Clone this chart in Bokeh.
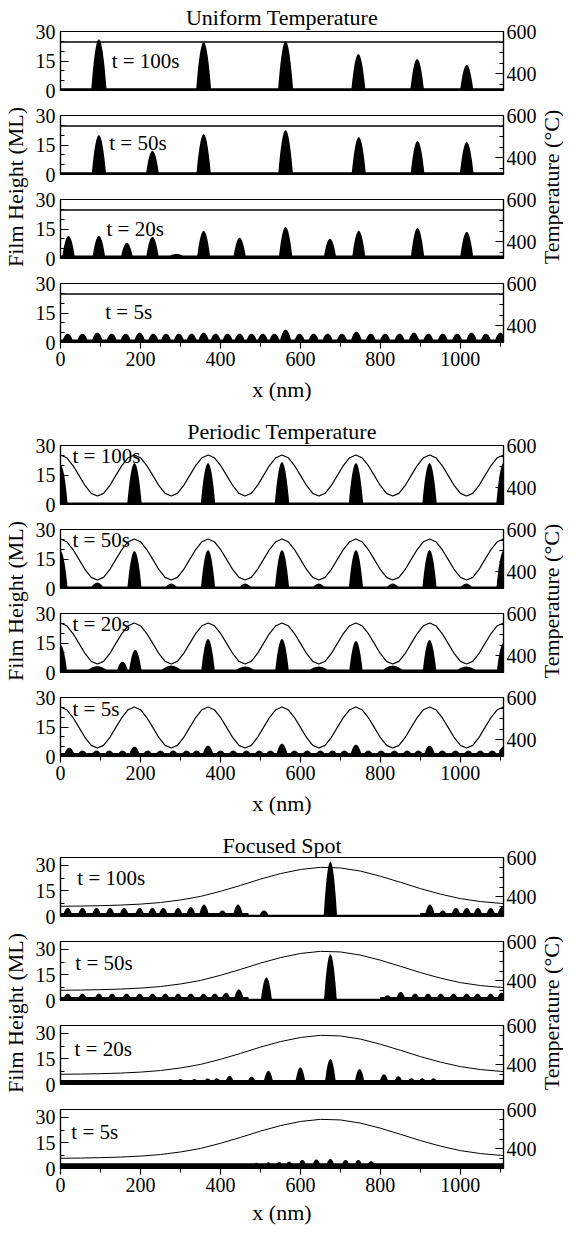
import numpy as np
from bokeh.plotting import figure
from bokeh.models import Range1d, LinearAxis, FixedTicker, Span
from bokeh.layouts import column, row
from bokeh.embed import file_html
from bokeh.resources import INLINE
from bokeh.core.properties import value

FONT = "Liberation Serif"

# ---------------- axes ----------------
X_MAX = 1108
X_TICKS = [0, 200, 400, 600, 800, 1000]
X_MINOR = [100, 300, 500, 700, 900, 1100]
H_TICKS = [0, 15, 30]
H_MINOR = [5, 10, 20, 25]
H_MINOR_FOC = [7.5, 22.5]
T_TICKS = [400, 600]
T_MINOR = [350, 450, 500, 550]
TIME_LABELS = ["t = 100s", "t = 50s", "t = 20s", "t = 5s"]

# ---------------- Uniform temperature ----------------
UNI_T = 550
uni100_x = [96, 358, 563, 745, 892, 1016]
uni100_h = [26, 24.5, 25, 18.5, 16, 13]
uni50_x = [96, 230, 358, 563, 746, 893, 1016]
uni50_h = [20, 12, 20.5, 22.5, 19, 17, 16.5]
uni20_x = [20, 96, 166, 230, 358, 448, 563, 674, 746, 893, 1016]
uni20_h = [11.5, 11.5, 8, 11, 14, 10.5, 16, 10, 14, 15.5, 13.5]
uni20_hump_x = [290]
uni20_hump_h = [2.3]
uni5_x = [18, 55, 92, 128, 163, 198, 232, 264, 296, 328, 358, 388, 418, 448, 478, 506, 535,
          563, 598, 633, 668, 704, 740, 776, 812, 848, 884, 920, 956, 992, 1028, 1064, 1100]
uni5_h = [4.5, 4.5, 5, 4.5, 4.5, 5, 4.5, 4.5, 4.5, 4.5, 5, 4.5, 4.5, 4.5, 4.5, 4.5, 4.5,
          6.5, 4.5, 4.5, 4.5, 4.5, 5.5, 4.5, 4.5, 4.5, 5, 4.5, 4.5, 4.5, 5, 4.5, 5]
uni_base = [1.2, 1.2, 1.5, 1.5]

# ---------------- Periodic temperature ----------------
PER_T_X = [0, 15.4, 30.8, 46.2, 61.6, 76.9, 92.3, 107.7, 123.1, 138.5, 153.9, 169.3,
           184.7, 200.1, 215.4, 230.8, 246.2, 261.6, 277.0, 292.4, 307.8, 323.2, 338.6, 353.9,
           369.3, 384.7, 400.1, 415.5, 430.9, 446.3, 461.7, 477.1, 492.4, 507.8, 523.2, 538.6,
           554.0, 569.4, 584.8, 600.2, 615.6, 630.9, 646.3, 661.7, 677.1, 692.5, 707.9, 723.3,
           738.7, 754.1, 769.4, 784.8, 800.2, 815.6, 831.0, 846.4, 861.8, 877.2, 892.6, 907.9,
           923.3, 938.7, 954.1, 969.5, 984.9, 1000.3, 1015.7, 1031.1, 1046.4, 1061.8, 1077.2, 1092.6,
           1108.0]
PER_T = [555, 542, 506, 458, 409, 373, 360, 373, 409, 458, 506, 542,
         555, 542, 506, 458, 409, 373, 360, 373, 409, 458, 506, 542,
         555, 542, 506, 458, 409, 373, 360, 373, 409, 458, 506, 542,
         555, 542, 506, 458, 409, 373, 360, 373, 409, 458, 506, 542,
         555, 542, 506, 458, 409, 373, 360, 373, 409, 458, 506, 542,
         555, 542, 506, 458, 409, 373, 360, 373, 409, 458, 506, 542,
         555]
per100_x = [0, 185, 369, 554, 739, 923, 1108]
per100_h = [20, 21, 21, 21.5, 21, 21, 21]
per50_x = [0, 185, 369, 554, 739, 923, 1108]
per50_h = [19, 19, 19.5, 19.5, 19.5, 19.5, 19]
per50_hump_x = [92, 277, 462, 646, 831, 1015]
per50_hump_h = [3, 2.5, 2.5, 2.5, 2.5, 2.5]
per20_x = [0, 155, 187, 369, 554, 739, 923, 1108]
per20_h = [14, 5.5, 11.5, 17, 17, 16, 16.5, 15]
per20_hump_x = [92, 277, 462, 646, 831, 1015]
per20_hump_h = [3.2, 3.5, 3, 3, 3.5, 3]
per5_x = [22, 55, 90, 122, 155, 185, 218, 250, 282, 315, 340, 369, 400, 432, 465, 497, 525, 554,
          585, 617, 650, 680, 710, 739, 770, 802, 835, 867, 895, 923, 955, 988, 1020, 1050, 1080, 1108]
per5_h = [4.5, 3, 3, 3, 3, 5, 3, 3, 3, 3, 3, 5.5, 3, 3, 3, 3, 3, 6.5,
          3, 3, 3, 3, 3, 6, 3, 3, 3, 3, 3, 5.5, 3, 3, 3, 3, 3, 5]
per_base = [1.0, 1.0, 1.5, 1.8]

# ---------------- Focused spot ----------------
FOC_T_X = [0, 50, 100, 150, 200, 250, 300, 350, 400, 450, 500, 550, 600, 650, 700, 750,
           800, 850, 900, 950, 1000, 1050, 1100, 1108]
FOC_T = [352, 353, 355, 358, 363, 371, 384, 402, 428, 458, 490, 518, 539, 550, 547, 531,
         505, 474, 442, 414, 391, 376, 367, 366]
foc100_x = [18, 55, 90, 124, 159, 198, 230, 257, 294, 326, 359, 405, 444, 509, 675,
            924, 956, 989, 1016, 1044, 1076, 1104]
foc100_h = [5, 5, 5, 5, 5, 5, 5, 5, 5, 5.5, 7, 3.5, 7, 3.5, 32,
            7, 3.5, 5, 5, 5, 5, 5.5]
foc100_band = [(0, 470, 2.0), (900, 1108, 2.0)]
foc50_x = [18, 55, 96, 129, 165, 198, 230, 262, 294, 326, 358, 386, 414, 446, 515, 675,
           818, 851, 887, 919, 951, 983, 1016, 1043, 1076, 1103]
foc50_h = [4, 4, 4, 4, 4, 4, 4, 4, 4, 4, 4, 4, 4.5, 6.5, 13.5, 27,
           3, 5, 4, 4, 4, 4, 4, 4, 4, 4.5]
foc50_band = [(0, 470, 2.0), (800, 1108, 2.0)]
foc20_x = [300, 335, 368, 391, 423, 478, 520, 600, 675, 748, 809, 845, 878, 905, 933]
foc20_h = [3.2, 3.2, 3.5, 3.6, 5, 4.5, 8, 10, 15, 9, 6, 4.8, 3.6, 3.6, 3.6]
foc5_x = [490, 520, 547, 572, 605, 640, 675, 713, 745, 777]
foc5_h = [3.3, 3.6, 3.8, 4, 5, 5.3, 5.6, 5, 5, 4.3]
foc_base = [1.0, 1.0, 2.6, 3.0]

# ---------------- drawing helpers ----------------
XS = np.arange(0, X_MAX + 0.5, 0.5)


def film_profile(base, centers, heights, hump_x=(), hump_h=(), hump_w=40, bands=(), narrow=False):
    y = np.full(XS.shape, float(base))
    for a, b, lv in bands:
        m = (XS >= a) & (XS <= b)
        y[m] = np.maximum(y[m], lv)
    for c, h in zip(hump_x, hump_h):
        d = np.clip(np.abs(XS - c) / hump_w, 0, 1)
        y = np.maximum(y, h * np.cos(np.pi * d / 2) ** 2)
    for c, h in zip(centers, heights):
        w = (12 + 0.15 * h) if narrow else (14 + 0.2 * h)
        d = (XS - c) / w
        y = np.maximum(y, h * (1 - d * d))
    return y


def style_axis(ax, major_in, major_out, minor_in, minor_out, standoff):
    ax.axis_line_color = "black"
    ax.axis_line_width = 1.2
    ax.major_tick_line_color = "black"
    ax.major_tick_line_width = 1.2
    ax.minor_tick_line_color = "black"
    ax.minor_tick_line_width = 1
    ax.major_tick_in = major_in
    ax.major_tick_out = major_out
    ax.minor_tick_in = minor_in
    ax.minor_tick_out = minor_out
    ax.major_label_text_font = FONT
    ax.major_label_text_font_size = "20px"
    ax.major_label_text_color = "black"
    ax.major_label_standoff = standoff


FRAME_W = 443
FRAME_H = 59
ML, MR = 28, 33
WL, WR = 32, 24
GAP_TOP, GAP_BOT = 13, 12


def make_panel(kind, prof, label, lab_x, lab_y, top, bottom, title=None, title_offset=0,
               title_standoff=2, with_x=False, xlab_standoff=11):
    focused = kind == "focused"
    yr = (0, 34.5) if focused else (0, 30)
    tr = (300, 600) if focused else (320, 600)
    p = figure(frame_width=FRAME_W, frame_height=FRAME_H,
               x_range=Range1d(0, X_MAX), y_range=Range1d(*yr),
               min_border_left=ML, min_border_right=MR,
               min_border_top=top, min_border_bottom=bottom,
               toolbar_location=None, output_backend="svg", title=title,
               x_axis_location="below" if with_x else None)
    p.grid.visible = False
    p.outline_line_color = "black"
    p.outline_line_width = 1.2
    p.outline_line_alpha = 1.0
    p.background_fill_color = "white"
    p.border_fill_color = "white"
    if title:
        p.title.text_font = FONT
        p.title.text_font_size = "22px"
        p.title.text_font_style = "normal"
        p.title.text_color = "black"
        p.title.align = "center"
        p.title.offset = title_offset
        p.title.standoff = title_standoff

    left = p.left[0]
    left.ticker = FixedTicker(ticks=H_TICKS, minor_ticks=H_MINOR_FOC if focused else H_MINOR)
    style_axis(left, 8, 0, 4, 0, 5)

    p.extra_y_ranges = {"T": Range1d(*tr)}
    right = LinearAxis(y_range_name="T", ticker=FixedTicker(ticks=T_TICKS, minor_ticks=T_MINOR))
    style_axis(right, 8, 0, 4, 0, 3)
    p.add_layout(right, "right")

    if with_x:
        xa = p.below[0]
        xa.ticker = FixedTicker(ticks=X_TICKS, minor_ticks=X_MINOR)
        style_axis(xa, 0, 6, 0, 4, 3)
        xa.axis_label = "x (nm)"
        xa.axis_label_text_font = FONT
        xa.axis_label_text_font_size = "22px"
        xa.axis_label_text_font_style = "normal"
        xa.axis_label_text_color = "black"
        xa.axis_label_standoff = xlab_standoff

    p.varea(x=XS, y1=0, y2=prof, fill_color="black", fill_alpha=1.0)

    if kind == "uniform":
        p.add_layout(Span(location=UNI_T, dimension="width", y_range_name="T",
                          line_color="black", line_width=1.6))
    elif kind == "periodic":
        p.line(PER_T_X, PER_T, y_range_name="T", line_color="black", line_width=1.2)
    else:
        p.line(FOC_T_X, FOC_T, y_range_name="T", line_color="black", line_width=1.0)

    p.text(x=[lab_x], y=[lab_y], text=[label], text_font=value(FONT), text_font_size="21px",
           text_align="left", text_baseline="middle", text_color="black")
    return p


def label_fig(text, w, h, xc, yc_top):
    f = figure(width=w, height=h, x_range=Range1d(0, w), y_range=Range1d(0, h),
               min_border=0, min_border_left=0, min_border_right=0,
               min_border_top=0, min_border_bottom=0,
               toolbar_location=None, output_backend="svg",
               x_axis_location=None, y_axis_location=None)
    f.outline_line_color = None
    f.grid.visible = False
    f.text(x=[xc], y=[h - yc_top], text=[text], angle=np.pi / 2, text_align="center",
           text_baseline="middle", text_font=value(FONT), text_font_size="22px", text_color="black")
    return f


# ---------------- build sections ----------------
uni_profiles = [
    film_profile(uni_base[0], uni100_x, uni100_h),
    film_profile(uni_base[1], uni50_x, uni50_h),
    film_profile(uni_base[2], uni20_x, uni20_h, uni20_hump_x, uni20_hump_h, 40),
    film_profile(uni_base[3], uni5_x, uni5_h),
]
per_profiles = [
    film_profile(per_base[0], per100_x, per100_h),
    film_profile(per_base[1], per50_x, per50_h, per50_hump_x, per50_hump_h, 24),
    film_profile(per_base[2], per20_x, per20_h, per20_hump_x, per20_hump_h, 44),
    film_profile(per_base[3], per5_x, per5_h),
]
foc_profiles = [
    film_profile(foc_base[0], foc100_x, foc100_h, bands=foc100_band, narrow=True),
    film_profile(foc_base[1], foc50_x, foc50_h, bands=foc50_band, narrow=True),
    film_profile(foc_base[2], foc20_x, foc20_h, narrow=True),
    film_profile(foc_base[3], foc5_x, foc5_h, narrow=True),
]

uni_lab_pos = [(128, 15), (122, 16), (115, 15), (112, 15.5)]
per_lab_pos = [(30, 24.5), (30, 24.5), (30, 24.5), (30, 24)]
foc_lab_pos = [(42, 22.5), (37, 22), (35, 21), (27, 21.5)]

# title, offset, kind, profiles, label positions, top border, bottom border, x-label standoff, title standoff
SECTIONS = [
    ("Uniform Temperature", -11, "uniform", uni_profiles, uni_lab_pos, 31, 72, 8, 4),
    ("Periodic Temperature", -2, "periodic", per_profiles, per_lab_pos, 31, 73, 8, 4),
    ("Focused Spot", 8, "focused", foc_profiles, foc_lab_pos, 28, 52, 5, 0),
]

blocks = []
for title, toff, kind, profs, labpos, t1, bb, xls, tso in SECTIONS:
    panels = []
    for i in range(4):
        top = t1 if i == 0 else GAP_TOP
        bottom = bb if i == 3 else GAP_BOT
        panels.append(make_panel(kind, profs[i], TIME_LABELS[i], labpos[i][0], labpos[i][1],
                                 top, bottom, title=title if i == 0 else None,
                                 title_offset=toff, title_standoff=tso,
                                 with_x=(i == 3), xlab_standoff=xls))
    H = t1 + 4 * FRAME_H + 3 * (GAP_TOP + GAP_BOT) + bb
    yc = t1 + (4 * FRAME_H + 3 * (GAP_TOP + GAP_BOT)) / 2
    lf = label_fig("Film Height (ML)", WL, H, 15, yc)
    rf = label_fig("Temperature (°C)", WR, H, 12, yc)
    blocks.append(row(lf, column(*panels), rf))

layout = column(*blocks)
open("out.html", "w").write(file_html(layout, INLINE))
